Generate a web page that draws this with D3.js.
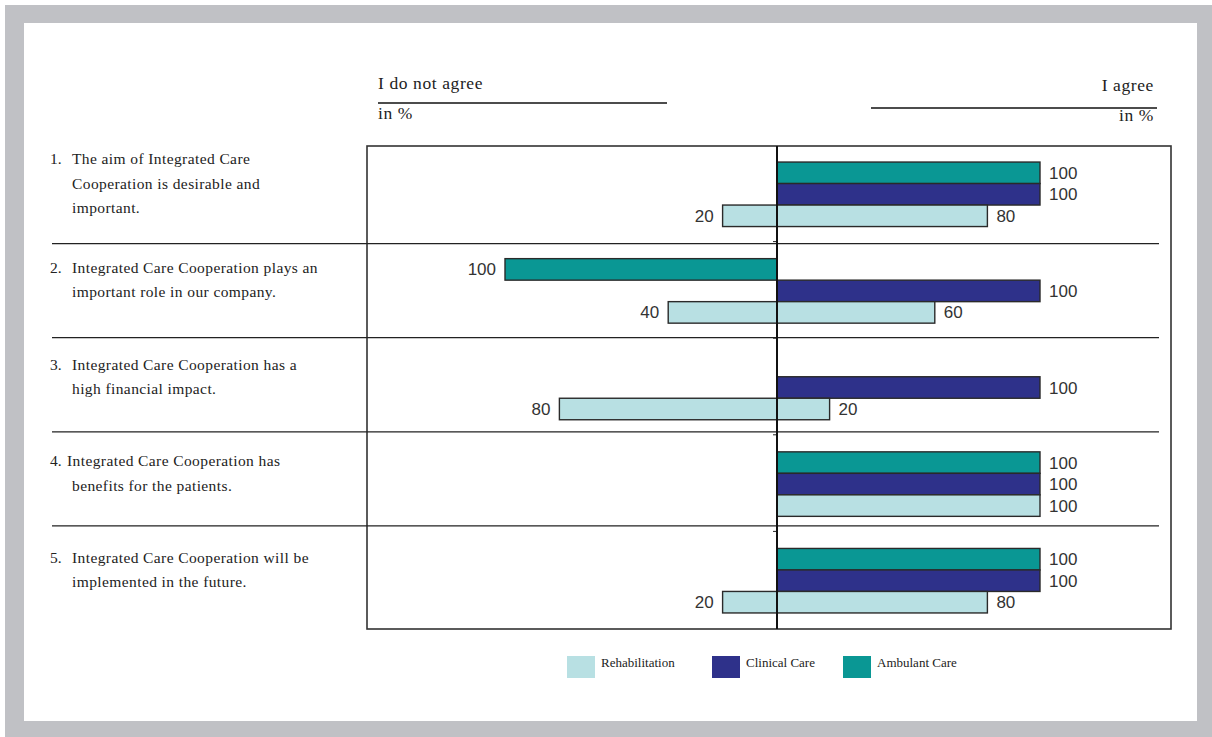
<!DOCTYPE html>
<html>
<head>
<meta charset="utf-8">
<script src="https://cdn.jsdelivr.net/npm/d3@7"></script>
<style>
  html, body { margin: 0; padding: 0; background: #fff; }
  .frame { position: absolute; left: 5px; top: 5px; width: 1207px; height: 732px; background: #c0c1c5; }
  .sheet { position: absolute; left: 24px; top: 23px; width: 1173px; height: 698px; background: #fff; }
  svg { position: absolute; left: 0; top: 0; }
  .serif { font-family: "Liberation Serif", "DejaVu Serif", serif; fill: #222; }
  .val { font-family: "Liberation Sans", Arial, sans-serif; font-size: 17px; fill: #333; }
</style>
</head>
<body>
<div class="frame"></div>
<div class="sheet"></div>
<div id="chart"></div>
<script>
(function () {

  // chart data
  const questions = ["q1", "q2", "q3", "q4", "q5"];
  const questionLines = [
    ["1.", "The aim of Integrated Care", "Cooperation is desirable and", "important."],
    ["2.", "Integrated Care Cooperation plays an", "important role in our company."],
    ["3.", "Integrated Care Cooperation has a", "high financial impact."],
    ["4.", "Integrated Care Cooperation has", "benefits for the patients."],
    ["5.", "Integrated Care Cooperation will be", "implemented in the future."]
  ];
  const seriesNames = ["Ambulant Care", "Clinical Care", "Rehabilitation"];
  const legendOrder = ["Rehabilitation", "Clinical Care", "Ambulant Care"];
  const seriesColors = ["#0a9794", "#2e318a", "#b8e0e3"];

  // agree / do-not-agree shares in %
  const ambulantAgree = [100, 0, null, 100, 100];
  const ambulantDisagree = [0, 100, null, 0, 0];
  const clinicalAgree = [100, 100, 100, 100, 100];
  const clinicalDisagree = [0, 0, 0, 0, 0];
  const rehabAgree = [80, 60, 20, 100, 80];
  const rehabDisagree = [20, 40, 80, 0, 20];

  const agreeBySeries = [ambulantAgree, clinicalAgree, rehabAgree];
  const disagreeBySeries = [ambulantDisagree, clinicalDisagree, rehabDisagree];

  // chart settings
  const svg_width = 1212, svg_height = 737;
  const box = { left: 367, top: 146, right: 1171, bottom: 629 };

  const svg = d3.select("#chart").append("svg")
    .attr("width", svg_width)
    .attr("height", svg_height);

  // scales
  const x = d3.scaleLinear()
    .domain([-100, 0, 100])
    .range([505, 777, 1040]);
  const y = d3.scaleBand()
    .domain(questions)
    .range([box.top, box.bottom]);
  const ySub = d3.scaleBand()
    .domain(seriesNames)
    .range([0, 64.5]);
  const color = d3.scaleOrdinal().domain(seriesNames).range(seriesColors);

  // flatten the arrays into bar records
  const bars = [];
  questions.forEach(function (q, i) {
    seriesNames.forEach(function (s, j) {
      bars.push({ q: q, s: s, agree: agreeBySeries[j][i], disagree: disagreeBySeries[j][i] });
    });
  });

  // plot box
  svg.append("rect")
    .attr("x", box.left).attr("y", box.top)
    .attr("width", box.right - box.left).attr("height", box.bottom - box.top)
    .attr("fill", "none").attr("stroke", "#333").attr("stroke-width", 1.6);

  // row separators
  svg.selectAll(".sep")
    .data(questions.slice(1))
    .enter().append("line")
    .attr("class", "sep")
    .attr("x1", 52).attr("x2", 1159)
    .attr("y1", function (d, i) { return y(d) + 1 - i * 2.5; })
    .attr("y2", function (d, i) { return y(d) + 1 - i * 2.5; })
    .attr("stroke", "#222").attr("stroke-width", 1.2);

  // small ticks on the centre axis
  svg.selectAll(".tick-mark")
    .data(questions.slice(1))
    .enter().append("line")
    .attr("x1", x(0) - 4).attr("x2", x(0))
    .attr("y1", function (d) { return y(d) - 1; })
    .attr("y2", function (d) { return y(d) - 1; })
    .attr("stroke", "#222").attr("stroke-width", 1);

  const barTop = function (d) {
    return y(d.q) + (y.bandwidth() - 64.5) / 2 + ySub(d.s);
  };

  const valid = bars.filter(function (d) { return d.agree !== null; });

  // agree bars (right)
  svg.selectAll(".bar-agree")
    .data(valid.filter(function (d) { return d.agree > 0; }))
    .enter().append("rect")
    .attr("class", "bar-agree")
    .attr("x", x(0))
    .attr("y", barTop)
    .attr("width", function (d) { return x(d.agree) - x(0); })
    .attr("height", ySub.bandwidth())
    .attr("fill", function (d) { return color(d.s); })
    .attr("stroke", "#2a2a2a").attr("stroke-width", 1.4);

  // disagree bars (left)
  svg.selectAll(".bar-disagree")
    .data(valid.filter(function (d) { return d.disagree > 0; }))
    .enter().append("rect")
    .attr("class", "bar-disagree")
    .attr("x", function (d) { return x(-d.disagree); })
    .attr("y", barTop)
    .attr("width", function (d) { return x(0) - x(-d.disagree); })
    .attr("height", ySub.bandwidth())
    .attr("fill", function (d) { return color(d.s); })
    .attr("stroke", "#2a2a2a").attr("stroke-width", 1.4);

  // value labels
  svg.selectAll(".lab-agree")
    .data(valid.filter(function (d) { return d.agree > 0; }))
    .enter().append("text")
    .attr("class", "val")
    .attr("x", function (d) { return x(d.agree) + 9; })
    .attr("y", function (d) { return barTop(d) + ySub.bandwidth() / 2 + 6; })
    .text(function (d) { return d.agree; });

  svg.selectAll(".lab-disagree")
    .data(valid.filter(function (d) { return d.disagree > 0; }))
    .enter().append("text")
    .attr("class", "val")
    .attr("text-anchor", "end")
    .attr("x", function (d) { return x(-d.disagree) - 9; })
    .attr("y", function (d) { return barTop(d) + ySub.bandwidth() / 2 + 6; })
    .text(function (d) { return d.disagree; });

  // centre axis line
  svg.append("line")
    .attr("x1", x(0)).attr("x2", x(0))
    .attr("y1", box.top).attr("y2", box.bottom)
    .attr("stroke", "#111").attr("stroke-width", 2);

  // question labels
  const qg = svg.selectAll(".question")
    .data(questionLines)
    .enter().append("g")
    .attr("class", "question")
    .attr("transform", function (d, i) {
      const n = d.length - 1;
      const top = y(questions[i]) + y.bandwidth() / 2 - 11 - (n - 1) * 12;
      return "translate(0," + top + ")";
    });

  qg.append("text")
    .attr("class", "serif")
    .attr("font-size", 15.5)
    .attr("x", 50).attr("y", 5)
    .text(function (d) { return d[0]; });

  qg.each(function (d, i) {
    const g = d3.select(this);
    d.slice(1).forEach(function (line, k) {
      g.append("text")
        .attr("class", "serif")
        .attr("font-size", 15.5)
        .attr("letter-spacing", 0.4)
        .attr("x", (i === 3 && k === 0) ? 67 : 72)
        .attr("y", 5 + k * 24.5)
        .text(line);
    });
  });

  // headers
  svg.append("text").attr("class", "serif").attr("font-size", 17.5).attr("letter-spacing", 0.6)
    .attr("x", 378).attr("y", 89).text("I do not agree");
  svg.append("line").attr("x1", 378).attr("x2", 667).attr("y1", 103).attr("y2", 103)
    .attr("stroke", "#111").attr("stroke-width", 1.4);
  svg.append("text").attr("class", "serif").attr("font-size", 17.5).attr("letter-spacing", 0.6)
    .attr("x", 378).attr("y", 119).text("in %");

  svg.append("text").attr("class", "serif").attr("font-size", 17.5).attr("letter-spacing", 0.6)
    .attr("text-anchor", "end").attr("x", 1154).attr("y", 91).text("I agree");
  svg.append("line").attr("x1", 871).attr("x2", 1157).attr("y1", 108).attr("y2", 108)
    .attr("stroke", "#111").attr("stroke-width", 1.4);
  svg.append("text").attr("class", "serif").attr("font-size", 17.5).attr("letter-spacing", 0.6)
    .attr("text-anchor", "end").attr("x", 1154).attr("y", 121).text("in %");

  // legend
  const legendX = d3.scaleOrdinal().domain(legendOrder).range([567, 712, 843]);
  const lg = svg.selectAll(".legend")
    .data(legendOrder)
    .enter().append("g")
    .attr("class", "legend")
    .attr("transform", function (d) { return "translate(" + legendX(d) + ",656)"; });
  lg.append("rect")
    .attr("width", 28).attr("height", 22)
    .attr("fill", function (d) { return color(d); });
  lg.append("text")
    .attr("class", "serif")
    .attr("font-size", 13)
    .attr("x", 34).attr("y", 11)
    .text(function (d) { return d; });

})();
</script>
</body>
</html>
